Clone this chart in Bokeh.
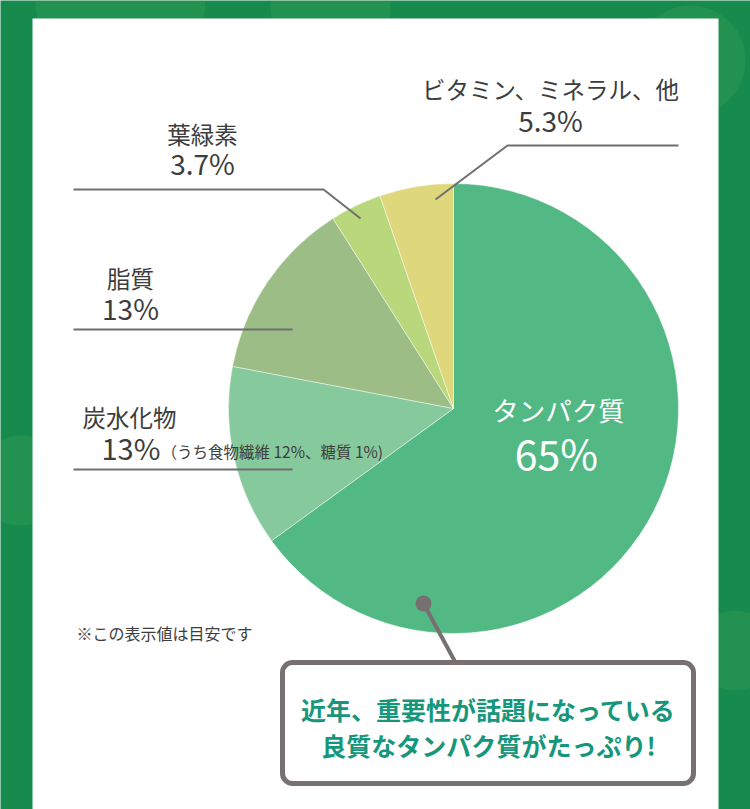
import math
from bokeh.plotting import figure
from bokeh.models import Range1d
from bokeh.core.properties import value
from bokeh.embed import file_html
from bokeh.resources import INLINE

# ---- data ----
names = ["タンパク質", "炭水化物", "脂質", "葉緑素", "ビタミン、ミネラル、他"]
shares = [65, 13, 13, 3.7, 5.3]
colors = ["#52b985", "#86c99c", "#9cbd85", "#b9d77b", "#ded77c"]
note_carb = "（うち食物繊維 12%、糖質 1%)"
footnote = "※この表示値は目安です"
callout_lines = ["近年、重要性が話題になっている", "良質なタンパク質がたっぷり!"]

W, H = 750, 809
FONT = value("Noto Sans CJK JP")
TXT = "#3d3d3d"
LINE = "#6f6f6f"
BG = "#178b4e"

def Y(py):
    return H - py

def pct(v):
    return f"{v:g}%"

p = figure(width=W, height=H, x_range=Range1d(0, W), y_range=Range1d(0, H),
           output_backend="svg", toolbar_location=None, min_border=0,
           background_fill_color=BG, border_fill_color=BG)
p.axis.visible = False
p.grid.visible = False
p.outline_line_color = None

# faint background bokeh
p.scatter(x=[120, 330, 690, 20, 735], y=[Y(0), Y(5), Y(60), Y(480), Y(650)], size=[170, 120, 110, 90, 80],
          fill_color="#7fbf5a", fill_alpha=0.12, line_color=None)

# white panel
p.quad(left=32, right=718, bottom=-20, top=Y(18), fill_color="white", line_color=None)

# pie
cx, cy, r = 453, Y(408), 225
total = sum(shares)
starts, ends = [], []
acc = 0.0
for v in shares:
    starts.append(math.pi / 2 - 2 * math.pi * acc / total)
    acc += v
    ends.append(math.pi / 2 - 2 * math.pi * acc / total)
p.wedge(x=[cx] * len(shares), y=[cy] * len(shares), radius=r,
        start_angle=starts, end_angle=ends, direction="clock",
        fill_color=colors, line_color="white", line_alpha=0.45, line_width=1)

def txt(x, y, t, size, color=TXT, align="center", style="normal"):
    p.text(x=[x], y=[Y(y)], text=[t], text_align=align, text_baseline="middle",
           text_font=FONT, text_font_size=size, text_color=color, text_font_style=style)

# leader lines
p.line(x=[435, 507, 678], y=[Y(199), Y(145), Y(145)], line_color=LINE, line_width=2)
p.line(x=[73, 323, 360], y=[Y(189), Y(189), Y(218)], line_color=LINE, line_width=2)
p.line(x=[73, 292], y=[Y(329), Y(329)], line_color=LINE, line_width=2)
p.line(x=[73, 292], y=[Y(469), Y(469)], line_color=LINE, line_width=2)

# labels
txt(550, 88, names[4], "23.5px")
txt(550, 119, pct(shares[4]), "28px")
txt(202, 133, names[3], "23.5px")
txt(202, 162, pct(shares[3]), "28px")
txt(130, 277, names[2], "23.5px")
txt(130, 307, pct(shares[2]), "28px")
txt(82, 416, names[1], "23.5px", align="left")
txt(101, 446, pct(shares[1]), "29px", align="left")
txt(161, 450, note_carb, "15.5px", align="left")
txt(558, 409, names[0], "26.5px", color="white")
txt(556, 451, pct(shares[0]), "41px", color="white")
txt(76, 632, footnote, "16px", align="left")

# callout
p.line(x=[423, 455], y=[Y(603), Y(662)], line_color="#767170", line_width=4)
p.scatter(x=[423], y=[Y(603)], size=16, fill_color="#767170", line_color=None)
p.quad(left=282, right=693, bottom=Y(783), top=Y(662), fill_color="white",
       line_color="#767170", line_width=5, border_radius=10)
txt(488, 708, callout_lines[0], "25px", color="#16977c", style="bold")
txt(488, 744, callout_lines[1], "25px", color="#16977c", style="bold")

open("out.html", "w").write(file_html(p, INLINE))
